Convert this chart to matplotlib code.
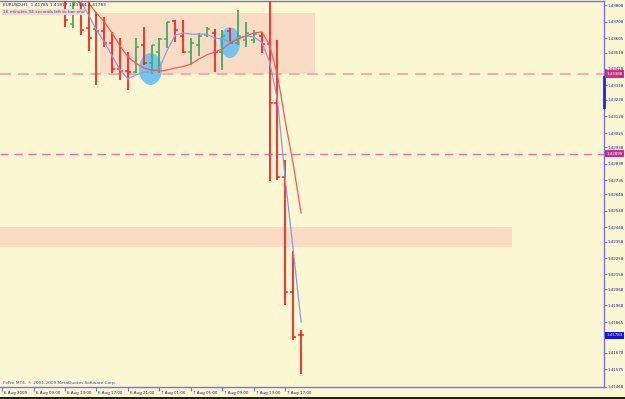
import matplotlib
matplotlib.use("Agg")
import matplotlib.pyplot as plt
from matplotlib.patches import Rectangle, Ellipse
import matplotlib.transforms as mtransforms

plt.rcParams['font.family'] = ['Liberation Sans Narrow', 'DejaVu Sans']

# ---------------- data ----------------
# bar index = hours since 6 Aug 2009 06:00 (H1 bars)
bar_x = list(range(7, 38))
opens = [1.43902, 1.43694, 1.43829, 1.43669, 1.43663, 1.43651, 1.43577, 1.43418, 1.43405, 1.43399,
         1.43565, 1.43454, 1.43522, 1.43602, 1.43712, 1.43620, 1.43522, 1.43565, 1.43626, 1.43639,
         1.43522, 1.43651, 1.43577, 1.43596, 1.43596, 1.43620, 1.43571, 1.43209, 1.42755, 1.42050,
         1.41785]
highs = [1.43964, 1.43872, 1.43872, 1.43829, 1.43767, 1.43737, 1.43645, 1.43608, 1.43522, 1.43608,
         1.43675, 1.43565, 1.43608, 1.43706, 1.43718, 1.43718, 1.43608, 1.43639, 1.43675, 1.43663,
         1.43657, 1.43669, 1.43780, 1.43706, 1.43657, 1.43645, 1.44209, 1.43596, 1.42859, 1.42301,
         1.41817]
lows = [1.43675, 1.43669, 1.43626, 1.43528, 1.43320, 1.43553, 1.43393, 1.43350, 1.43289, 1.43393,
        1.43442, 1.43387, 1.43393, 1.43547, 1.43583, 1.43516, 1.43442, 1.43497, 1.43614, 1.43399,
        1.43412, 1.43577, 1.43565, 1.43553, 1.43577, 1.43516, 1.42731, 1.42737, 1.41970, 1.41755,
        1.41544]
closes = [1.43718, 1.43829, 1.43657, 1.43608, 1.43651, 1.43577, 1.43418, 1.43405, 1.43399, 1.43553,
          1.43454, 1.43565, 1.43602, 1.43706, 1.43657, 1.43522, 1.43577, 1.43620, 1.43663, 1.43522,
          1.43620, 1.43577, 1.43620, 1.43639, 1.43632, 1.43571, 1.43209, 1.42755, 1.42050, 1.41774,
          1.41783]

fast_ma_x = list(range(8, 38))
fast_ma = [1.43915, 1.43829, 1.43749, 1.43657, 1.43583, 1.43497, 1.43412, 1.43356, 1.43381, 1.43399,
           1.43399, 1.43424, 1.43534, 1.43626, 1.43639, 1.43632, 1.43632, 1.43632, 1.43608, 1.43602,
           1.43583, 1.43608, 1.43620, 1.43614, 1.43583, 1.43461, 1.43228, 1.42737, 1.42307, 1.41866]
slow_ma_x = list(range(9, 38))
slow_ma = [1.43902, 1.43823, 1.43761, 1.43706, 1.43639, 1.43559, 1.43491, 1.43454, 1.43424, 1.43412,
           1.43405, 1.43412, 1.43424, 1.43433, 1.43448, 1.43479, 1.43504, 1.43522, 1.43540, 1.43577,
           1.43602, 1.43620, 1.43639, 1.43645, 1.43565, 1.43381, 1.43093, 1.42835, 1.42534]

hlines_levels = [1.43388, 1.42899]
last_price = 1.41783

price_ticks = [1.43808, 1.43708, 1.43605, 1.43518, 1.43418, 1.43318, 1.43228, 1.43128, 1.43025,
               1.42938, 1.42838, 1.42735, 1.42648, 1.42548, 1.42448, 1.42358, 1.42258, 1.42158,
               1.42068, 1.41968, 1.41865, 1.41678, 1.41575, 1.41468]
time_ticks = [-1, 3, 7, 11, 15, 19, 23, 27, 31, 35]
time_labels = ["6 Aug 2009", "6 Aug 09:00", "6 Aug 13:00", "6 Aug 17:00", "6 Aug 21:00",
               "7 Aug 01:00", "7 Aug 05:00", "7 Aug 09:00", "7 Aug 13:00", "7 Aug 17:00"]

title_text = "EURUSD,H1  1.41785 1.41817 1.41544 1.41783"
timer_text = "16 minutes 34 seconds left to bar end"
footer_text = "FxPro MT4, \u00a9 2001-2009 MetaQuotes Software Corp."

# ---------------- style ----------------
BG = "#FBF7D3"
RECT = "#FADCC4"
UP = "#3DAE62"
DOWN = "#FF2222"
AXIS = "#7373F0"
TXT = "#1A1A8C"
FS = 2.9

W, H = 625, 399
fig = plt.figure(figsize=(W / 100, H / 100), dpi=100)
fig.patch.set_facecolor(BG)
ax = fig.add_axes([0 / W, 1 - 387 / H, 604 / W, 386 / H])
ax.set_facecolor(BG)
ax.set_xlim(-1.26, 75.49)
ax.set_ylim(1.41467, 1.43835)

# rectangles
ax.add_patch(Rectangle((11.45, 1.43387), 38.77 - 11.45, 1.43763 - 1.43387,
                       facecolor=RECT, edgecolor="none", zorder=1))
ax.add_patch(Rectangle((-1.3, 1.42326), 63.8 + 1.3, 1.42448 - 1.42326,
                       facecolor=RECT, edgecolor="none", zorder=1))

# horizontal dashed lines
ax.axhline(hlines_levels[0], color="#EFA8A8", lw=1.3, ls=(0, (6, 4)), zorder=2)
ax.axhline(hlines_levels[1], color="#E6709A", lw=1.0, ls=(0, (6, 4)), zorder=2)

# ellipses
ax.add_patch(Ellipse((17.87, 1.43418), 2.92, 0.00196, facecolor="#73C4F0",
                     edgecolor="none", zorder=3))
ax.add_patch(Ellipse((27.97, 1.43580), 2.54, 0.00190, facecolor="#73C4F0",
                     edgecolor="none", zorder=3))

# bars
tick = 0.38
for x, o, h, l, c in zip(bar_x, opens, highs, lows, closes):
    col = UP if c > o else DOWN
    ax.vlines(x, l, h, color=col, lw=1.3, zorder=4)
    ax.hlines(o, x - tick, x, color=col, lw=1.1, zorder=4)
    ax.hlines(c, x, x + tick, color=col, lw=1.1, zorder=4)

# moving averages
ax.plot(fast_ma_x, fast_ma, color="#8C9BE6", lw=0.9, zorder=5)
ax.plot(slow_ma_x, slow_ma, color="#F25A5A", lw=0.9, zorder=5)

# axes frame
ax.spines["left"].set_visible(False)
for s in ["right", "bottom", "top"]:
    ax.spines[s].set_color(AXIS)
    ax.spines[s].set_linewidth(1.0)

ax.yaxis.tick_right()
ax.set_yticks(price_ticks)
ax.set_yticklabels([f"{v:.5f}" for v in price_ticks])
ax.tick_params(axis="y", colors=AXIS, length=2, width=0.8, pad=0.8, labelsize=FS,
               labelcolor=TXT)
ax.set_xticks(time_ticks)
ax.set_xticklabels(time_labels)
ax.tick_params(axis="x", colors=AXIS, length=3, width=0.8, pad=-0.3, labelsize=FS,
               labelcolor=TXT)
for lab in ax.get_xticklabels():
    lab.set_horizontalalignment("left")
    lab.set_transform(lab.get_transform() + mtransforms.ScaledTranslation(2 / 100, 0, fig.dpi_scale_trans))

# blue marker on axis
trans = mtransforms.blended_transform_factory(ax.transAxes, ax.transData)
ax.plot([1.0, 1.0], [1.43369, 1.43185], transform=trans, color="#1E1EFF", lw=2.0,
        clip_on=False, zorder=6)

# highlighted price labels
def price_label(y, bg):
    ax.text(1.004, y, f"{y:.5f}", transform=trans, ha="left", va="center", fontsize=FS,
            color="white", zorder=7, clip_on=False,
            bbox=dict(boxstyle="square,pad=0.45", facecolor=bg, edgecolor="none"))

price_label(hlines_levels[0], "#CC2A8C")
price_label(hlines_levels[1], "#CC2A8C")
price_label(last_price, "#1414E6")

# texts
fig.text(3 / W, 1 - 5 / H, title_text, fontsize=3.1, color=TXT, ha="left", va="center")
fig.text(3 / W, 1 - 12 / H, timer_text, fontsize=3.1, color="#2D46C8", ha="left", va="center",
         bbox=dict(boxstyle="square,pad=0.15", facecolor="#F8D8C4", edgecolor="none"))
fig.text(3 / W, 1 - 383 / H, footer_text, fontsize=3.1, color="#2D46C8", ha="left", va="center")

# bottom dark band
fig.add_artist(Rectangle((0, 0), 1, 2 / H, transform=fig.transFigure, facecolor="#202020",
                         edgecolor="none"))

fig.savefig("out.png", dpi=100, facecolor=BG)
